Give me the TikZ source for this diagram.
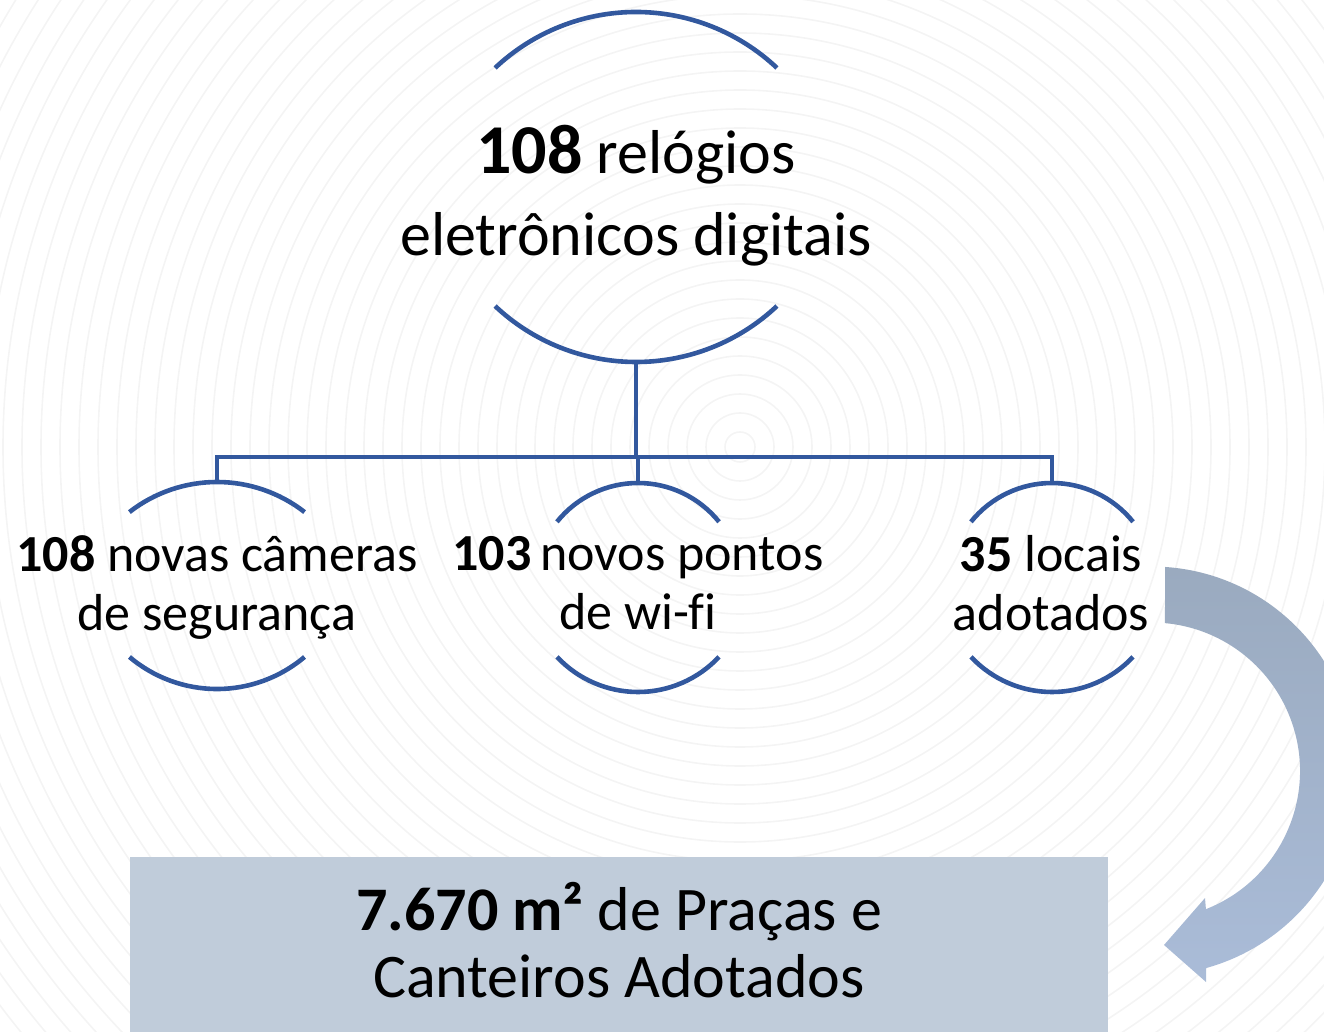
\documentclass[tikz,border=0pt]{standalone}
\usepackage{fontspec}
\setmainfont{Carlito}[Ligatures=NoCommon]
\usetikzlibrary{calc}

\definecolor{linkblue}{RGB}{50,88,158}
\definecolor{boxfill}{RGB}{192,204,218}
\definecolor{ringgray}{RGB}{244,244,244}
\definecolor{swirltop}{RGB}{154,170,191}
\definecolor{swirlbot}{RGB}{170,188,216}

\begin{document}
\begin{tikzpicture}[x=1pt,y=1pt,
    link/.style={draw=linkblue,line width=4.6pt},
    lines/.style={align=center,inner sep=0pt,
      execute at begin node=\strut,execute at end node=\strut},
    bigtxt/.style={lines,font=\fontsize{62}{82}\selectfont},
    smalltxt/.style={lines,font=\fontsize{52}{59}\selectfont}]
\useasboundingbox (0,0) rectangle (1324,1031);
\clip (0,0) rectangle (1324,1031);

% faint rings in the back
\foreach \r in {15,34,...,1300}
  \draw[ringgray,line width=1.6pt] (740,584) circle[radius=\r];

% top item
\node[bigtxt] (rel) at (636,828.4) {{\fontsize{70}{82}\selectfont\bfseries 108} relógios\\eletrônicos digitais};
\coordinate (reltop) at (636,1019);
\coordinate (relfoot) at (636,669);
\draw[link] (reltop) arc[start angle=90,end angle=46.7,radius=205.5]
            (reltop) arc[start angle=90,end angle=133.3,radius=205.5];
\draw[link] (relfoot) arc[start angle=270,end angle=226.7,radius=205.5]
            (relfoot) arc[start angle=270,end angle=313.3,radius=205.5];

% children
\node[smalltxt] (cam) at (217,439.3) {\textbf{108} novas câmeras\\de segurança};
\node[smalltxt] (wifi) at (638,439.3) {\textbf{103}\,novos pontos\\de wi-fi};
\node[smalltxt] (loc) at (1051,439.3) {\textbf{35} locais\\adotados};

\coordinate (camtop) at (217,549);
\coordinate (cambot) at (217,342);
\coordinate (wifitop) at (638,548);
\coordinate (wifibot) at (638,339);
\coordinate (loctop) at (1052,548);
\coordinate (locbot) at (1052,339);

\draw[link] (camtop) arc[start angle=90,end angle=52.1,radius=142.6]
            (camtop) arc[start angle=90,end angle=127.9,radius=142.6];
\draw[link] (cambot) arc[start angle=270,end angle=229.8,radius=135.6]
            (cambot) arc[start angle=270,end angle=310.2,radius=135.6];
\draw[link] (wifitop) arc[start angle=90,end angle=38.8,radius=104]
            (wifitop) arc[start angle=90,end angle=141.2,radius=104];
\draw[link] (wifibot) arc[start angle=270,end angle=223.1,radius=111]
            (wifibot) arc[start angle=270,end angle=316.9,radius=111];
\draw[link] (loctop) arc[start angle=90,end angle=38.8,radius=104]
            (loctop) arc[start angle=90,end angle=141.2,radius=104];
\draw[link] (locbot) arc[start angle=270,end angle=223.1,radius=111]
            (locbot) arc[start angle=270,end angle=316.9,radius=111];

% connectors
\coordinate (bus) at (636,574);
\draw[link] (relfoot) -- (bus);
\draw[link] (camtop) |- (bus) -| (loctop);
\draw[link] (wifitop) -- (wifitop |- bus);

% result box
\node[lines,fill=boxfill,minimum width=978pt,minimum height=186.2pt,
      font=\fontsize{62}{67}\selectfont] (praca) at (619,80.9)
      {\textbf{7.670 m²} de Praças e\\Canteiros Adotados};

% curved arrow
\coordinate (swirl) at (1151.5,260);
\coordinate (barbhi) at (1205,133);
\coordinate (barblo) at (1206,49);
\coordinate (tip) at (1164,86);
\shade[top color=swirltop,bottom color=swirlbot]
  ($(swirl)+(86.2:204.5)$) arc[start angle=86.2,end angle=-74.5,radius=204.5]
  -- (barblo) -- (tip) -- (barbhi)
  -- ($(swirl)+(-68.5:148.5)$)
  arc[start angle=-68.5,end angle=84.8,radius=148.5] -- cycle;
\end{tikzpicture}
\end{document}
